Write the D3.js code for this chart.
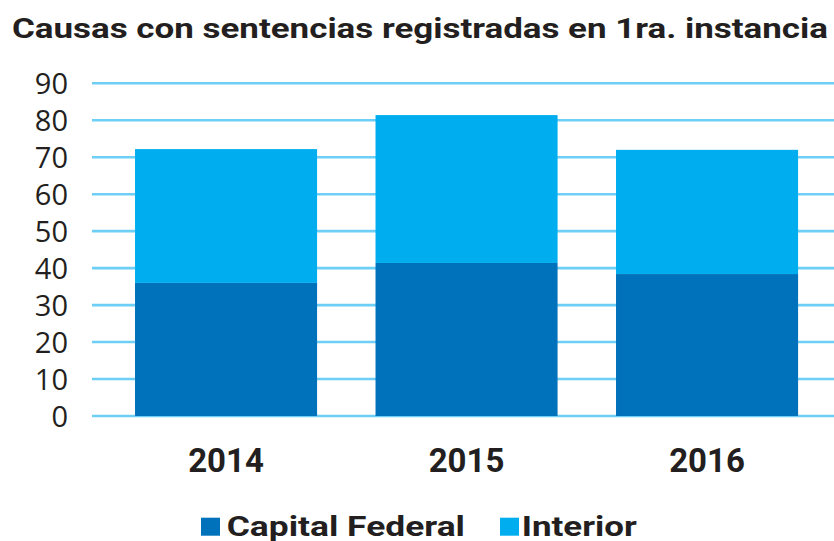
<!DOCTYPE html>
<html><head><meta charset="utf-8">
<script src="https://cdn.jsdelivr.net/npm/d3@7"></script>
<style>body{margin:0;background:#fff}svg{display:block}</style>
</head><body>
<script>
const years = ["2014", "2015", "2016"];
const capitalFederal = [36.0, 41.4, 38.4];
const interior = [36.2, 40.0, 33.6];
const yTicks = [0, 10, 20, 30, 40, 50, 60, 70, 80, 90];
const seriesNames = ["Capital Federal", "Interior"];
const colors = ["#0071bb", "#00aeef"];
const title = "Causas con sentencias registradas en 1ra. instancia";

const W = 834, H = 541;
const svg = d3.select("body").append("svg").attr("width", W).attr("height", H);

const rows = years.map((y, i) => ({year: y, "Capital Federal": capitalFederal[i], "Interior": interior[i]}));
const stack = d3.stack().keys(seriesNames)(rows);

const x = d3.scaleBand().domain(years).range([105.8, 827.3]).paddingInner(0.243).paddingOuter(0.1215);
const y = d3.scaleLinear().domain([0, 90]).range([416, 83.3]);

// title
svg.append("text").attr("x", 12).attr("y", 38.3)
  .attr("textLength", 816).attr("lengthAdjust", "spacingAndGlyphs")
  .style("font-family", "Roboto").style("font-weight", "700").style("font-size", "27px")
  .attr("fill", "#231f20").text(title);

// gridlines
svg.append("g").selectAll("line").data(yTicks).join("line")
  .attr("x1", 92).attr("x2", 834)
  .attr("y1", d => y(d)).attr("y2", d => y(d))
  .attr("stroke", "#6dcff6").attr("stroke-width", 2.6);

// tick labels
svg.append("g").selectAll("text").data(yTicks).join("text")
  .attr("x", 68).attr("y", d => y(d) + 11)
  .attr("text-anchor", "end")
  .style("font-family", "Open Sans").style("font-size", "29px")
  .attr("fill", "#231f20").text(d => d);

// bars
svg.append("g").selectAll("g").data(stack).join("g")
  .attr("fill", (d, i) => colors[i])
  .selectAll("rect").data(d => d).join("rect")
  .attr("x", d => x(d.data.year)).attr("width", x.bandwidth())
  .attr("y", d => y(d[1])).attr("height", d => y(d[0]) - y(d[1]));

// x labels
svg.append("g").selectAll("text").data(years).join("text")
  .attr("x", d => x(d) + x.bandwidth() / 2).attr("y", 471.7)
  .attr("text-anchor", "middle")
  .style("font-family", "Roboto").style("font-weight", "700").style("font-size", "33px")
  .attr("fill", "#231f20").text(d => d);

// legend
const legendItems = [
  {name: seriesNames[0], sx: 201, tx: 226.7, tw: 238.3},
  {name: seriesNames[1], sx: 500, tx: 521.7, tw: 115}
];
const lg = svg.append("g");
legendItems.forEach((it, i) => {
  lg.append("rect").attr("x", it.sx).attr("y", 517.7).attr("width", 19).attr("height", 18).attr("fill", colors[i]);
  lg.append("text").attr("x", it.tx).attr("y", 535.5)
    .attr("textLength", it.tw).attr("lengthAdjust", "spacingAndGlyphs")
    .style("font-family", "Roboto").style("font-weight", "700").style("font-size", "28px")
    .attr("fill", "#231f20").text(it.name);
});
</script>
</body></html>
